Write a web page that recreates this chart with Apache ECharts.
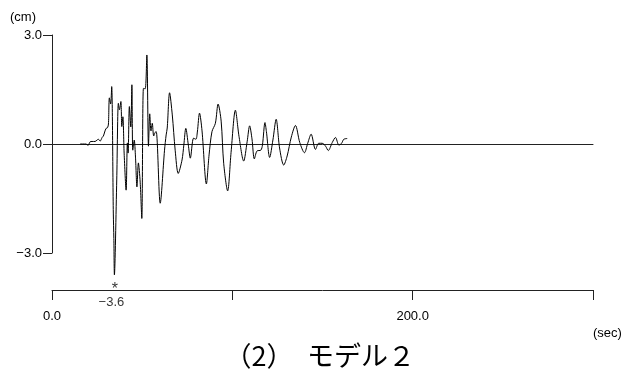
<!DOCTYPE html>
<html>
<head>
<meta charset="utf-8">
<script src="https://cdn.jsdelivr.net/npm/echarts@6/dist/echarts.min.js"></script>
<style>
  html, body { margin: 0; padding: 0; background: #fff; }
  #chart { width: 643px; height: 372px; }
</style>
</head>
<body>
<div id="chart"></div>
<script>
// Time axis of the record (sec)
const times = [
  15.6, 18.9, 20.0, 21.1, 22.2, 23.9, 25.0, 25.7, 26.7, 27.8,
  28.5, 29.2, 30.0, 30.8, 31.3, 31.8, 32.5, 33.1, 34.0, 34.3,
  34.6, 35.9, 36.8, 37.4, 38.2, 38.7, 39.3, 40.0, 41.1, 41.8,
  42.2, 42.9, 43.7, 44.3, 44.8, 45.6, 46.3, 47.1, 47.9, 48.9,
  49.8, 50.7, 51.7, 52.6, 53.5, 54.2, 54.9, 55.6, 56.4, 57.2,
  57.8, 60.0, 62.4, 63.3, 63.9, 65.2, 66.7, 68.3, 70.0, 72.1,
  73.1, 74.2, 75.6, 76.7, 78.5, 79.8, 80.6, 81.8, 83.2, 85.6,
  87.1, 88.7, 90.6, 92.1, 93.8, 95.2, 97.4, 99.3, 101.7, 103.7,
  106.3, 108.2, 109.6, 110.9, 112.2, 113.7, 115.8, 116.7, 118.1, 118.9,
  120.7, 122.5, 124.3, 126.2, 128.5, 130.4, 132.7, 135.0, 137.4, 140.0,
  141.8, 143.7, 146.1, 147.9, 149.8, 151.7, 153.2, 155.4, 157.2, 159.1,
  160.6, 161.8, 163.7
];

// Displacement (cm)
const displacement = [
  0.00, 0.00, -0.04, 0.06, 0.07, 0.07, 0.11, 0.13, 0.08, 0.18,
  0.22, 0.33, 0.43, 0.45, 0.55, 1.27, 1.10, 1.58, -1.90, -2.60,
  -3.60, -0.99, 1.12, 0.94, 1.17, 0.48, 0.75, -0.25, -1.27, 0.03,
  -0.25, 1.03, 0.47, 1.63, -0.17, 0.11, -0.36, -1.18, -0.52, -1.05,
  -2.05, 1.53, 1.52, 2.45, -0.06, 0.83, 0.36, 0.57, 0.22, 0.32,
  0.34, -1.63, -0.17, 0.25, 0.44, 1.41, 0.80, -0.17, -0.81, -0.44,
  -0.03, 0.43, -0.03, -0.39, 0.16, 0.13, 0.33, 0.85, 0.36, -1.10,
  -0.30, 0.34, 0.57, 1.10, 0.63, -0.53, -1.29, -0.23, 0.93, 0.21,
  -0.47, 0.06, 0.50, 0.14, -0.41, -0.19, -0.17, -0.03, 0.59, 0.34,
  -0.37, 0.11, 0.68, -0.11, -0.58, -0.33, 0.19, 0.51, 0.04, -0.24,
  0.02, 0.27, -0.15, 0.02, 0.02, -0.06, -0.18, 0.04, 0.18, -0.03,
  0.02, 0.13, 0.15
];

// Axis ticks
const yTicks = [-3.0, 0.0, 3.0];
const xTicks = [0, 100, 200, 300];
const xTickLabels = ['0.0', '', '200.0', ''];

const titleText = '（2）　モデル２';
const yUnit = '(cm)';
const xUnit = '(sec)';

const labelFont = '"Liberation Sans", Arial, sans-serif';
const fmt = v => (v < 0 ? '\u2212' + Math.abs(v).toFixed(1) : v.toFixed(1));

// peak (minimum) value and its time
let minIdx = 0;
displacement.forEach((v, i) => { if (v < displacement[minIdx]) minIdx = i; });
const minT = times[minIdx];
const minV = displacement[minIdx];

const chart = echarts.init(document.getElementById('chart'), null, { renderer: 'canvas' });

chart.setOption({
  animation: false,
  backgroundColor: '#fff',
  graphic: [
    { type: 'text', left: 10, top: 11, style: { text: yUnit, font: '13px ' + labelFont, fill: '#000' } },
    { type: 'text', left: 593, top: 327, style: { text: xUnit, font: '13px ' + labelFont, fill: '#000' } },
    {
      type: 'text', x: 415, y: 356,
      style: {
        text: titleText, fill: '#000',
        font: '27px "Noto Sans CJK JP", sans-serif',
        textAlign: 'right', textVerticalAlign: 'middle'
      }
    }
  ],
  grid: [
    { left: 52, right: 50, top: 35, height: 218 },
    { left: 52, right: 50, top: 288, height: 2 }
  ],
  xAxis: [
    {
      gridIndex: 0, type: 'value', min: 0, max: 300,
      axisLine: { show: true, onZero: true, lineStyle: { color: '#222', width: 1 } },
      axisTick: { show: false }, axisLabel: { show: false }, splitLine: { show: false }
    },
    {
      gridIndex: 1, type: 'value', min: 0, max: 300, interval: 100,
      axisLine: { show: true, lineStyle: { color: '#222', width: 1 } },
      axisTick: { show: true, length: 10, lineStyle: { color: '#222' } },
      axisLabel: {
        margin: 20, color: '#000', fontSize: 13, fontFamily: labelFont,
        formatter: v => xTickLabels[xTicks.indexOf(v)] || ''
      },
      splitLine: { show: false }
    }
  ],
  yAxis: [
    {
      gridIndex: 0, type: 'value', min: yTicks[0], max: yTicks[yTicks.length - 1], interval: 3,
      axisLine: { show: true, lineStyle: { color: '#222', width: 1 } },
      axisTick: { show: true, length: 9, lineStyle: { color: '#222' } },
      axisLabel: { margin: 10, color: '#000', fontSize: 13, fontFamily: labelFont, formatter: fmt },
      splitLine: { show: false }
    },
    {
      gridIndex: 1, type: 'value', min: 0, max: 1, show: false
    }
  ],
  series: [
    {
      type: 'line',
      xAxisIndex: 0, yAxisIndex: 0,
      data: times.map((t, i) => [t, displacement[i]]),
      showSymbol: false,
      smooth: 0.3,
      clip: false,
      lineStyle: { color: '#000', width: 1 }
    },
    {
      type: 'scatter',
      xAxisIndex: 1, yAxisIndex: 1,
      data: [[minT, 0]],
      symbolSize: 0,
      silent: true,
      label: {
        show: true,
        position: 'inside',
        offset: [-3, 6],
        formatter: () => '{s|*}\n{v|' + fmt(minV) + '}',
        rich: {
          s: { fontSize: 16, lineHeight: 12, color: '#000', fontFamily: labelFont, align: 'center', padding: [0, 0, 0, 7] },
          v: { fontSize: 13, lineHeight: 13, color: '#000', fontFamily: labelFont, align: 'center' }
        }
      }
    }
  ]
});
</script>
</body>
</html>
